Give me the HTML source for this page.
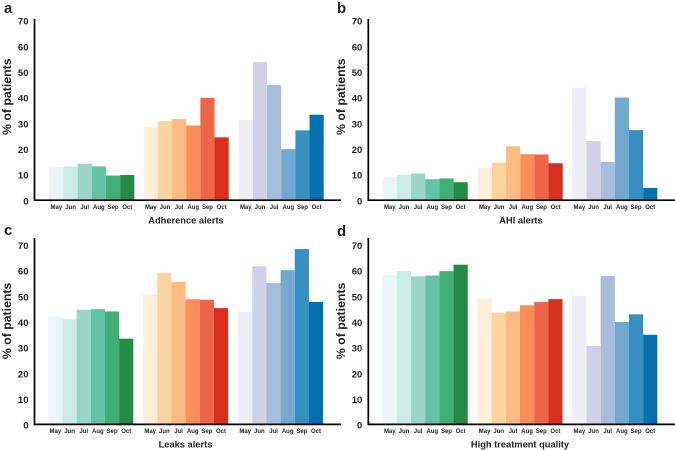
<!DOCTYPE html>
<html>
<head>
<meta charset="utf-8">
<style>
html,body{margin:0;padding:0;background:#fff;}
svg{display:block;font-family:"Liberation Sans",sans-serif;}
text{font-weight:bold;fill:#222;}
</style>
</head>
<body>
<svg id="chart" width="675" height="450" viewBox="0 0 675 450" xmlns="http://www.w3.org/2000/svg"></svg>
<script>
const months = ['May','Jun','Jul','Aug','Sep','Oct'];
const yTicks = [0,10,20,30,40,50,60,70];
const panelLetters = ['a','b','c','d'];
const panelTitles = ['Adherence alerts','AHI alerts','Leaks alerts','High treatment quality'];

const adherenceGreen = [13,13.2,14.2,13.2,9.6,9.8];
const adherenceOrange = [28.4,30.8,31.6,29.1,39.9,24.5];
const adherenceBlue = [31.2,53.8,44.9,19.9,27.2,33.3];

const ahiGreen = [9,9.9,10.4,8.2,8.5,7];
const ahiOrange = [12.5,14.6,21,17.9,17.8,14.4];
const ahiBlue = [43.9,23,14.9,40,27.3,4.8];

const leaksGreen = [42.1,41,44.7,44.9,44,33.4];
const leaksOrange = [50.5,59,55.5,48.8,48.6,45.3];
const leaksBlue = [43.8,61.6,55,60.1,68.3,47.7];

const qualityGreen = [58.2,59.7,57.7,58,59.7,62.2];
const qualityOrange = [49,43.5,44,46.4,47.7,48.8];
const qualityBlue = [50,30.6,57.8,39.9,42.9,34.9];

const greenShades = ['#e9f6f9','#cbece5','#99d6c4','#66c2a4','#41ae76','#238b45'];
const orangeShades = ['#feeeda','#fdd49e','#fdbb84','#fc8d59','#ef6548','#d7301f'];
const blueShades = ['#efedf5','#d0d1e6','#a6bddb','#74a9cf','#3690c0','#0570b0'];

const panelSeries = [
  [adherenceGreen, adherenceOrange, adherenceBlue],
  [ahiGreen, ahiOrange, ahiBlue],
  [leaksGreen, leaksOrange, leaksBlue],
  [qualityGreen, qualityOrange, qualityBlue]
];
const seriesShades = [greenShades, orangeShades, blueShades];
const seriesNames = ['green','orange','blue'];

const svg = document.getElementById('chart');
const NS = 'http://www.w3.org/2000/svg';
const UNIT = 2.567;
const BAR_W = 14.17;
const layouts = [
  {axisX:34.5, baseY:200.2, topY:19, endX:341, titleX:186, lx:4, ly:13},
  {axisX:368.3, baseY:200.2, topY:19, endX:675, titleX:521, lx:337, ly:13},
  {axisX:34.5, baseY:424.4, topY:238, endX:341, titleX:185.5, lx:4, ly:235},
  {axisX:368.3, baseY:424.4, topY:238, endX:675, titleX:520, lx:337, ly:236}
];
const groupOffsets = [
  [14.8,109.2,204.2],
  [14.4,109.4,204],
  [13.8,108.6,203.6],
  [14.4,109.2,204]
];

function yScale(layout, v){ return layout.baseY - v * UNIT; }
function xScale(panelIdx, groupIdx, monthIdx){
  return layouts[panelIdx].axisX + groupOffsets[panelIdx][groupIdx] + monthIdx * BAR_W;
}
function addText(content, x, y, size, anchor, transform){
  const t = document.createElementNS(NS,'text');
  t.setAttribute('x', x);
  t.setAttribute('y', y);
  t.setAttribute('font-size', size);
  t.setAttribute('text-anchor', anchor);
  if (transform) t.setAttribute('transform', transform);
  t.textContent = content;
  svg.appendChild(t);
  return t;
}
function addLine(x1,y1,x2,y2){
  const l = document.createElementNS(NS,'line');
  l.setAttribute('x1',x1);
  l.setAttribute('y1',y1);
  l.setAttribute('x2',x2);
  l.setAttribute('y2',y2);
  l.setAttribute('stroke','#000');
  l.setAttribute('stroke-width','1.7');
  svg.appendChild(l);
  return l;
}

panelSeries.forEach(function(series, p){
  const layout = layouts[p];

  series.forEach(function(values, g){
    values.forEach(function(v, m){
      const r = document.createElementNS(NS,'rect');
      const top = yScale(layout, v);
      r.setAttribute('x', xScale(p,g,m));
      r.setAttribute('y', top);
      r.setAttribute('width', BAR_W);
      r.setAttribute('height', layout.baseY - top);
      r.setAttribute('fill', seriesShades[g][m]);
      
      
      svg.appendChild(r);

      const lab = addText(months[m], xScale(p,g,m) + BAR_W/2, layout.baseY + 8.8, 6, 'middle');
      
      
    });
  });

  const yAxis = addLine(layout.axisX, layout.topY, layout.axisX, layout.baseY + 0.85);
  
  

  const xAxis = addLine(layout.axisX, layout.baseY, layout.endX, layout.baseY);
  
  

  yTicks.forEach(function(v){
    const tick = addText(String(v), layout.axisX - 6, yScale(layout, v) + 4.2, 9.5, 'end');
    
    
  });

  const midY = layout.baseY - 103.5;
  const yTitleX = layout.axisX - 23.5;
  const yTitle = addText('% of patients', yTitleX, midY, 12.3, 'middle', 'rotate(-90 ' + yTitleX + ' ' + midY + ')');
  
  

  const title = addText(panelTitles[p], layout.titleX, layout.baseY + 23.2, 9.3, 'middle');
  
  

  const letter = addText(panelLetters[p], layout.lx, layout.ly, 15, 'start');
  
  
});
</script>
</body>
</html>
